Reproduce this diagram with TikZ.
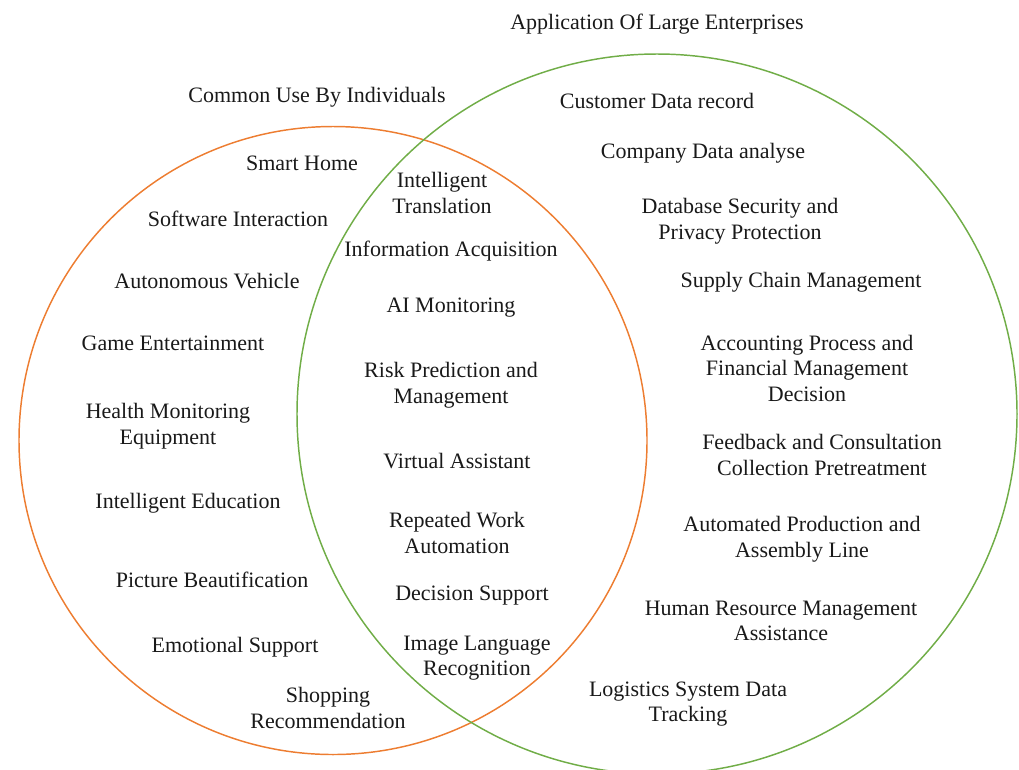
\documentclass[tikz,border=0pt]{standalone}
\usepackage{fontspec}
\setmainfont{Liberation Serif}
\definecolor{indiv}{HTML}{ED7D31}
\definecolor{enterp}{HTML}{70AD47}
\begin{document}
\begin{tikzpicture}[x=0.75pt,y=-0.75pt,
  lbl/.style={align=center,inner sep=0pt,font=\fontsize{16.5}{19.1}\selectfont,text=black!90},
  ring/.style={line width=1.1pt}]
\useasboundingbox (0,0) rectangle (1019,769);
% the two sets
\draw[ring,indiv] (333,440.5) circle[radius=314];
\draw[ring,enterp] (657,414) circle[radius=360];
% set titles
\node[lbl] (tE) at (657,24) {Application Of Large Enterprises};
\node[lbl] (tI) at (317,97) {Common Use By Individuals};
% individuals only
\node[lbl] (i1) at (302,163) {Smart Home};
\node[lbl] (i2) at (238,219) {Software Interaction};
\node[lbl] (i3) at (207,281) {Autonomous Vehicle};
\node[lbl] (i4) at (173,343) {Game Entertainment};
\node[lbl] (i5) at (168,426) {Health Monitoring\\Equipment};
\node[lbl] (i6) at (188,503) {Intelligent Education};
\node[lbl] (i7) at (212,580) {Picture Beautification};
\node[lbl] (i8) at (235,647) {Emotional Support};
\node[lbl] (i9) at (328,708) {Shopping\\Recommendation};
% shared
\node[lbl] (s1) at (442,193) {Intelligent\\Translation};
\node[lbl] (s2) at (451,251) {Information Acquisition};
\node[lbl] (s3) at (451,308) {AI Monitoring};
\node[lbl] (s4) at (451,385) {Risk Prediction and\\Management};
\node[lbl] (s5) at (457,461) {Virtual Assistant};
\node[lbl] (s6) at (457,533) {Repeated Work\\Automation};
\node[lbl] (s7) at (472,596) {Decision Support};
\node[lbl] (s8) at (477,658) {Image Language\\Recognition};
% enterprises only
\node[lbl] (e1) at (657,101) {Customer Data record};
\node[lbl] (e2) at (703,153) {Company Data analyse};
\node[lbl] (e3) at (740,221) {Database Security and\\Privacy Protection};
\node[lbl] (e4) at (801,282) {Supply Chain Management};
\node[lbl] (e5) at (807,368) {Accounting Process and\\Financial Management\\Decision};
\node[lbl] (e6) at (822,455) {Feedback and Consultation\\Collection Pretreatment};
\node[lbl] (e7) at (802,539) {Automated Production and\\Assembly Line};
\node[lbl] (e8) at (781,621) {Human Resource Management\\Assistance};
\node[lbl] (e9) at (688,704) {Logistics System Data\\Tracking};
\end{tikzpicture}
\end{document}
